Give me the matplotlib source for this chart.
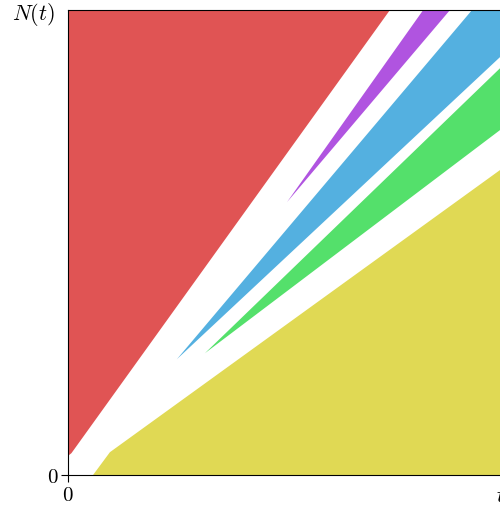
import matplotlib
matplotlib.use("Agg")
import matplotlib.pyplot as plt

plt.rcParams['mathtext.fontset'] = 'cm'

# region outlines, (t, N) pairs
red_t = [0.0, 0.745, 0.008, 0.0]
red_n = [1.0, 1.0, 0.047, 0.041]
purple_t = [0.507, 0.822, 0.884]
purple_n = [0.587, 1.0, 1.0]
blue_t = [0.252, 0.935, 1.0, 1.0]
blue_n = [0.249, 1.0, 1.0, 0.899]
green_t = [0.317, 1.0, 1.0]
green_n = [0.262, 0.875, 0.742]
yellow_t = [0.058, 0.097, 1.0, 1.0]
yellow_n = [0.0, 0.049, 0.656, 0.0]

red = (0.88, 0.33, 0.33)
yellow = (0.88, 0.85, 0.33)
green = (0.33, 0.88, 0.42)
blue = (0.33, 0.69, 0.88)
purple = (0.69, 0.33, 0.88)

fig = plt.figure(figsize=(5.0, 5.08), dpi=100)
ax = fig.add_axes([0.136, 0.065, 0.864, 0.915])

ax.fill(red_t, red_n, color=red, lw=0)
ax.fill(purple_t, purple_n, color=purple, lw=0)
ax.fill(blue_t, blue_n, color=blue, lw=0)
ax.fill(green_t, green_n, color=green, lw=0)
ax.fill(yellow_t, yellow_n, color=yellow, lw=0)

ax.set_xlim(0, 1)
ax.set_ylim(0, 1)
ax.spines['right'].set_visible(False)
for s in ['left', 'bottom', 'top']:
    ax.spines[s].set_linewidth(0.8)
ax.set_xticks([0])
ax.set_yticks([0])
ax.set_xticklabels(['$0$'], fontsize=15)
ax.set_yticklabels(['$0$'], fontsize=15)
ax.tick_params(length=5, width=0.8, pad=2)

ax.text(-0.03, 0.99, '$N(t)$', transform=ax.transAxes, ha='right', va='center', fontsize=16)
ax.text(0.99, -0.045, '$t$', transform=ax.transAxes, ha='left', va='center', fontsize=16)

fig.savefig("out.png", dpi=100)
